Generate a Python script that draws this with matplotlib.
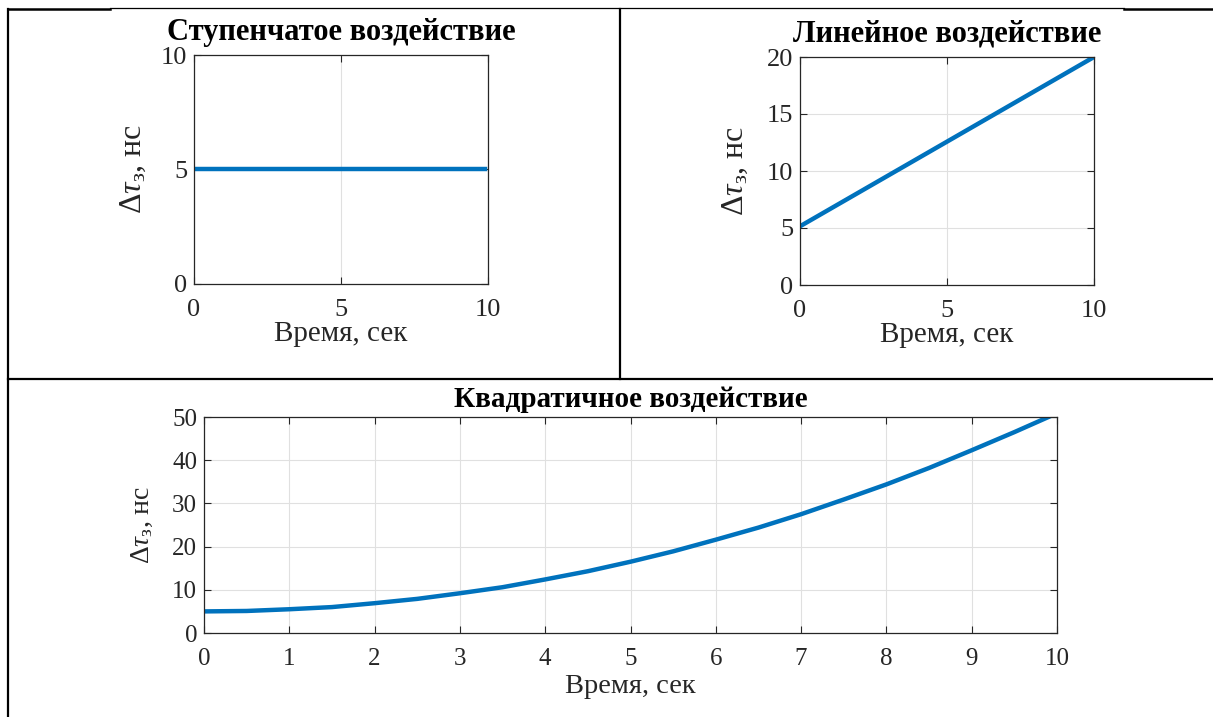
import matplotlib.pyplot as plt
from matplotlib.lines import Line2D

plt.rcParams['font.family'] = ['Liberation Serif', 'DejaVu Serif']
plt.rcParams['mathtext.fontset'] = 'custom'
plt.rcParams['mathtext.rm'] = 'Liberation Serif'
plt.rcParams['mathtext.it'] = 'Liberation Serif:italic'

W, H = 1213, 717
LINE_COLOR = '#0072BD'
AX_COLOR = '#262626'
Y_LABEL = r'$\Delta\tau_{\mathrm{з}}$, нс'
X_LABEL = 'Время, сек'

# ступенчатое
step_t = [0, 9.9]
step_y = [5, 5]
# линейное
lin_t = [0, 10]
lin_y = [5.15, 20]
# квадратичное
quad_t = [0, 0.5, 1, 1.5, 2, 2.5, 3, 3.5, 4, 4.5, 5, 5.5, 6, 6.5, 7, 7.5, 8, 8.5, 9, 9.5, 9.9]
quad_y = [5.0, 5.1, 5.5, 6.0, 6.9, 7.9, 9.2, 10.6, 12.4, 14.3, 16.5, 18.9, 21.6, 24.4, 27.5, 30.9, 34.4, 38.2, 42.3, 46.5, 50.0]


def px_rect(left, top, right, bottom):
    return [left / W, 1 - bottom / H, (right - left) / W, (bottom - top) / H]


def style_axes(ax, xticks, yticks, tick_size):
    ax.set_xlim(xticks[0], xticks[-1])
    ax.set_ylim(yticks[0], yticks[-1])
    ax.set_xticks(xticks)
    ax.set_yticks(yticks)
    ax.grid(True, color='#e0e0e0', linewidth=0.8)
    ax.set_axisbelow(True)
    for s in ax.spines.values():
        s.set_color(AX_COLOR)
        s.set_linewidth(0.9)
    ax.tick_params(direction='in', top=True, right=True, length=5, width=0.8,
                   color=AX_COLOR, labelcolor=AX_COLOR, labelsize=tick_size)
    ax.tick_params(axis='x', pad=11)
    ax.tick_params(axis='y', pad=5)


fig = plt.figure(figsize=(W / 100, H / 100), dpi=100)

ax1 = fig.add_axes(px_rect(194, 55, 488, 284))
ax1.plot(step_t, step_y, color=LINE_COLOR, linewidth=3.2)
style_axes(ax1, [0, 5, 10], [0, 5, 10], 19)
ax1.set_title('Ступенчатое воздействие', fontsize=22, fontweight='bold', pad=11)
ax1.set_xlabel(X_LABEL, fontsize=21, color=AX_COLOR, labelpad=0)
ax1.set_ylabel(Y_LABEL, fontsize=23, color=AX_COLOR, labelpad=9)

ax2 = fig.add_axes(px_rect(800, 57, 1094, 285))
ax2.plot(lin_t, lin_y, color=LINE_COLOR, linewidth=3.2)
style_axes(ax2, [0, 5, 10], [0, 5, 10, 15, 20], 19)
ax2.set_title('Линейное воздействие', fontsize=22, fontweight='bold', pad=11)
ax2.set_xlabel(X_LABEL, fontsize=21, color=AX_COLOR, labelpad=0)
ax2.set_ylabel(Y_LABEL, fontsize=23, color=AX_COLOR, labelpad=12)

ax3 = fig.add_axes(px_rect(204, 417, 1057, 633))
ax3.plot(quad_t, quad_y, color=LINE_COLOR, linewidth=3.2)
style_axes(ax3, list(range(11)), [0, 10, 20, 30, 40, 50], 18)
ax3.set_title('Квадратичное воздействие', fontsize=21, fontweight='bold', pad=7)
ax3.set_xlabel(X_LABEL, fontsize=20.5, color=AX_COLOR, labelpad=3)
ax3.set_ylabel(Y_LABEL, fontsize=20, color=AX_COLOR, labelpad=12)


# рамка таблицы
def border(x0, y0, x1, y1, lw=1.6):
    fig.add_artist(Line2D([x0 / W, x1 / W], [1 - y0 / H, 1 - y1 / H],
                          color='black', linewidth=lw, transform=fig.transFigure))


border(8, 9.2, 110, 9.2, 1.8)
border(110, 8, 1124, 8, 0.9)
border(1124, 9, W, 9, 1.8)
border(8, 8.5, 8, H)
border(620, 9, 620, 379)
border(8, 379, W, 379)

fig.savefig('out.png', dpi=100, facecolor='white')
